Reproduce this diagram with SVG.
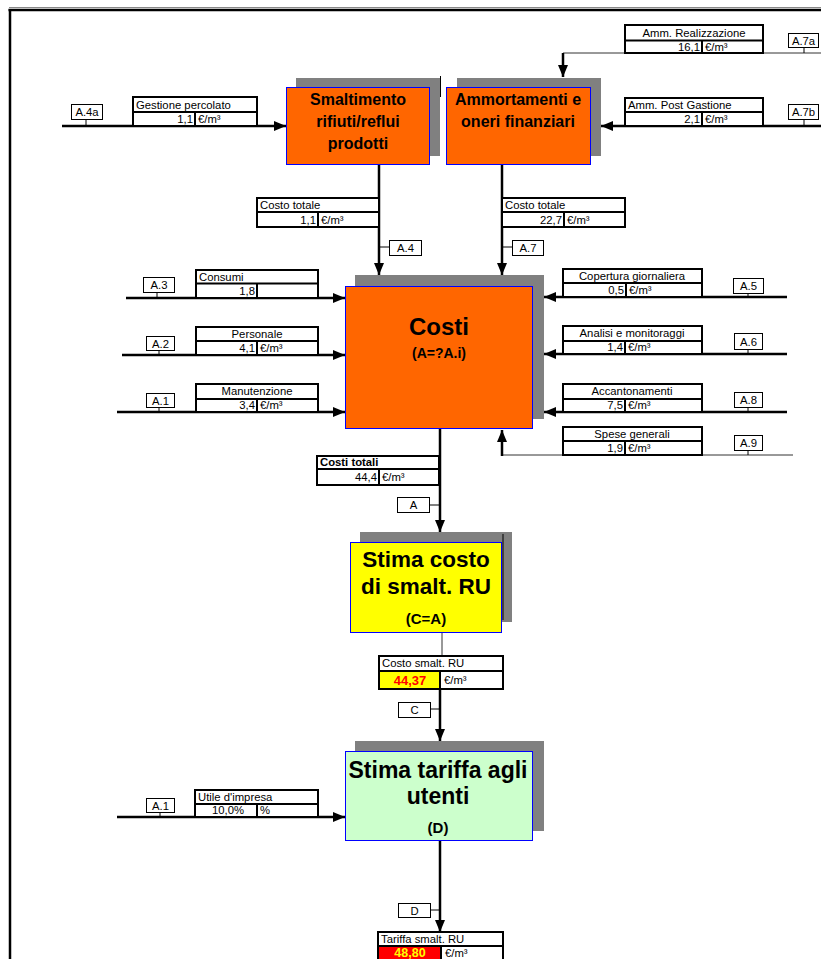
<svg xmlns="http://www.w3.org/2000/svg" width="821" height="959" viewBox="0 0 821 959">
<style>
.shadow{fill:#808080}
.orange{fill:#FF6600;stroke:#0000FF;stroke-width:1}
.yellow{fill:#FFFF00;stroke:#0000FF;stroke-width:1}
.green{fill:#CCFFCC;stroke:#0000FF;stroke-width:1}
.tb{fill:#fff;stroke:#000;stroke-width:2}
.tl{stroke:#000;stroke-width:2;fill:none}
.lb{fill:#fff;stroke:#000;stroke-width:1}
.tk{stroke:#000;stroke-width:1;fill:none}
text{font-family:"Liberation Sans",Arial,sans-serif;fill:#000}
.s{font-size:11.3px}
.m{text-anchor:middle}
.e{text-anchor:end}
.h{font-size:16px;font-weight:bold;text-anchor:middle}
.h2{font-size:23px;font-weight:bold;text-anchor:middle}
.h3{font-size:15px;font-weight:bold;text-anchor:middle}
.thick{stroke:#000;stroke-width:2.5;fill:none}
.thin{stroke:#333;stroke-width:1;fill:none}
</style>
<defs>
<marker id="arr" viewBox="0 0 12 10" refX="12" refY="5" markerWidth="12" markerHeight="10" markerUnits="userSpaceOnUse" orient="auto"><path d="M0,0 L12,5 L0,10 z" fill="#000"/></marker>
</defs>
<rect width="821" height="959" fill="#fff"/>
<g id="frame">
<line x1="9" y1="7.5" x2="821" y2="7.5" stroke="#888" stroke-width="1"/>
<line x1="8.5" y1="10" x2="821" y2="10" stroke="#000" stroke-width="2.5"/>
<line x1="10" y1="9" x2="10" y2="959" stroke="#000" stroke-width="2.5"/>
</g>
<g id="connectors">
<path class="thick" d="M62,126 H286" marker-end="url(#arr)"/>
<path class="thin" d="M821,53 H563"/>
<path class="thick" d="M563,53 V77" marker-end="url(#arr)"/>
<path class="thick" d="M821,126 H601" marker-end="url(#arr)"/>
<path class="thick" d="M379,165 V275" marker-end="url(#arr)"/>
<path class="thick" d="M502,165 V275" marker-end="url(#arr)"/>
<path class="thick" d="M126,298 H345" marker-end="url(#arr)"/>
<path class="thick" d="M122,355 H345" marker-end="url(#arr)"/>
<path class="thick" d="M117,412 H345" marker-end="url(#arr)"/>
<path class="thick" d="M787,297 H544" marker-end="url(#arr)"/>
<path class="thick" d="M787,354 H544" marker-end="url(#arr)"/>
<path class="thick" d="M787,412 H544" marker-end="url(#arr)"/>
<path class="thin" d="M793,455 H502"/>
<path class="thick" d="M502,456 V430" marker-end="url(#arr)"/>
<path class="thick" d="M440,429 V532" marker-end="url(#arr)"/>
<path class="thin" d="M442,633 V656"/>
<path class="thick" d="M440,689 V741" marker-end="url(#arr)"/>
<path class="thick" d="M117,817 H345" marker-end="url(#arr)"/>
<path class="thick" d="M440,841 V932" marker-end="url(#arr)"/>
<path class="tk" d="M86,120 V126 M804,47 V53 M804,119 V126 M379,247 H389 M502,247 H512 M157,293 V298 M159,350 V355 M159,408 V412 M748,293 V297 M748,349 V354 M748,407 V412 M748,450 V455 M429,505 H440 M430,709 H440 M160,812 V817 M430,910 H440"/>
</g>
<g id="node-smaltimento">
<rect class="shadow" x="296" y="78" width="144" height="78"/>
<line x1="440.5" y1="76" x2="440.5" y2="97" stroke="#000" stroke-width="1"/>
<rect class="orange" x="286.5" y="87.5" width="143" height="77"/>
<text class="h" x="358" y="104.5">Smaltimento</text>
<text class="h" x="358" y="126.5">rifiuti/reflui</text>
<text class="h" x="358" y="148.5">prodotti</text>
</g>
<g id="node-ammortamenti">
<rect class="shadow" x="457" y="78" width="144" height="78"/>
<rect class="orange" x="446.5" y="87.5" width="144" height="77"/>
<text class="h" x="518" y="104.5">Ammortamenti e</text>
<text class="h" x="518" y="126.5">oneri finanziari</text>
</g>
<g id="node-costi">
<rect class="shadow" x="355" y="275" width="189" height="144"/>
<rect class="orange" x="345.5" y="286.5" width="187" height="142"/>
<text x="439" y="335" style="font-size:24px;font-weight:bold;text-anchor:middle">Costi</text>
<text class="h3" x="439" y="358" style="font-size:14px">(A=?A.i)</text>
</g>
<g id="node-stima-costo">
<rect class="shadow" x="360" y="532" width="152" height="90"/>
<line x1="503" y1="534" x2="503" y2="620" stroke="#000" stroke-width="1"/>
<rect class="yellow" x="350.5" y="542.5" width="151" height="90"/>
<text class="h2" x="426" y="567" style="font-size:22.5px">Stima costo</text>
<text class="h2" x="426" y="594" style="font-size:22.5px">di smalt. RU</text>
<text class="h3" x="426" y="624">(C=A)</text>
</g>
<g id="node-stima-tariffa">
<rect class="shadow" x="355" y="741" width="189" height="90"/>
<rect class="green" x="345.5" y="751.5" width="187" height="89"/>
<text class="h2" x="438" y="778">Stima tariffa agli</text>
<text class="h2" x="438" y="804">utenti</text>
<text class="h3" x="438" y="833">(D)</text>
</g>
<g id="table-gestione">
<rect class="tb" x="133" y="97" width="124" height="29"/>
<path class="tl" d="M133,112 H257 M195,112 V126"/>
<text class="s" x="136" y="109">Gestione percolato</text>
<text class="s e" x="193" y="123">1,1</text>
<text class="s" x="198" y="123">€/m³</text>
</g>
<g id="table-amm-realizzazione">
<rect class="tb" x="625" y="25" width="138" height="28"/>
<path class="tl" d="M625,40.5 H763 M702,40.5 V53"/>
<text class="s m" x="694" y="37">Amm. Realizzazione</text>
<text class="s e" x="700" y="51">16,1</text>
<text class="s" x="705" y="51">€/m³</text>
</g>
<g id="table-amm-post">
<rect class="tb" x="625" y="98" width="138" height="28"/>
<path class="tl" d="M625,112 H763 M702,112 V126"/>
<text class="s" x="628" y="109">Amm. Post Gastione</text>
<text class="s e" x="700" y="123">2,1</text>
<text class="s" x="705" y="123">€/m³</text>
</g>
<g id="table-costo-totale-1">
<rect class="tb" x="257" y="198" width="122" height="29"/>
<path class="tl" d="M257,212 H379 M318,212 V227"/>
<text class="s" x="260" y="209">Costo totale</text>
<text class="s e" x="316" y="224">1,1</text>
<text class="s" x="321" y="224">€/m³</text>
</g>
<g id="table-costo-totale-2">
<rect class="tb" x="502" y="198" width="123" height="29"/>
<path class="tl" d="M502,212 H625 M564,212 V227"/>
<text class="s" x="505" y="209">Costo totale</text>
<text class="s e" x="562" y="224">22,7</text>
<text class="s" x="567" y="224">€/m³</text>
</g>
<g id="table-consumi">
<rect class="tb" x="196" y="270" width="122" height="28"/>
<path class="tl" d="M196,283.5 H318 M257,283.5 V298"/>
<text class="s" x="199" y="281">Consumi</text>
<text class="s e" x="255" y="295">1,8</text>
</g>
<g id="table-personale">
<rect class="tb" x="196" y="327" width="122" height="28"/>
<path class="tl" d="M196,341 H318 M257,341 V355"/>
<text class="s m" x="257" y="338">Personale</text>
<text class="s e" x="255" y="352">4,1</text>
<text class="s" x="260" y="352">€/m³</text>
</g>
<g id="table-manutenzione">
<rect class="tb" x="196" y="384" width="122" height="28"/>
<path class="tl" d="M196,399 H318 M257,399 V412"/>
<text class="s m" x="257" y="395">Manutenzione</text>
<text class="s e" x="255" y="409">3,4</text>
<text class="s" x="260" y="409">€/m³</text>
</g>
<g id="table-copertura">
<rect class="tb" x="563" y="269" width="139" height="28"/>
<path class="tl" d="M563,283 H702 M626,283 V297"/>
<text class="s m" x="632" y="280">Copertura giornaliera</text>
<text class="s e" x="624" y="294">0,5</text>
<text class="s" x="629" y="294">€/m³</text>
</g>
<g id="table-analisi">
<rect class="tb" x="563" y="326" width="139" height="28"/>
<path class="tl" d="M563,341 H702 M625,341 V354"/>
<text class="s m" x="632" y="337">Analisi e monitoraggi</text>
<text class="s e" x="623" y="351">1,4</text>
<text class="s" x="628" y="351">€/m³</text>
</g>
<g id="table-accantonamenti">
<rect class="tb" x="563" y="384" width="139" height="28"/>
<path class="tl" d="M563,399 H702 M625,399 V412"/>
<text class="s m" x="632" y="395">Accantonamenti</text>
<text class="s e" x="623" y="409">7,5</text>
<text class="s" x="628" y="409">€/m³</text>
</g>
<g id="table-spese">
<rect class="tb" x="563" y="427" width="139" height="28"/>
<path class="tl" d="M563,441 H702 M625,441 V455"/>
<text class="s m" x="632" y="438">Spese generali</text>
<text class="s e" x="623" y="452">1,9</text>
<text class="s" x="628" y="452">€/m³</text>
</g>
<g id="table-costi-totali">
<rect class="tb" x="317" y="456" width="122" height="29"/>
<path class="tl" d="M317,469 H439 M379,469 V485"/>
<text class="s" x="320" y="466" font-weight="bold">Costi totali</text>
<text class="s e" x="377" y="481">44,4</text>
<text class="s" x="382" y="481">€/m³</text>
</g>
<g id="table-costo-smalt">
<rect class="tb" x="379" y="656" width="124" height="33"/>
<rect x="380" y="671" width="60" height="17" fill="#FFFF00"/>
<path class="tl" d="M379,671 H503 M440,671 V689"/>
<text class="s" x="382" y="667">Costo smalt. RU</text>
<text x="410" y="685" style="font-size:13px;font-weight:bold;fill:#FF0000;text-anchor:middle">44,37</text>
<text class="s" x="444" y="684">€/m³</text>
</g>
<g id="table-utile">
<rect class="tb" x="195" y="790" width="123" height="27"/>
<path class="tl" d="M195,804 H318 M257,804 V817"/>
<text class="s" x="198" y="801">Utile d'impresa</text>
<text class="s m" x="228" y="814">10,0%</text>
<text class="s" x="260" y="814">%</text>
</g>
<g id="table-tariffa">
<rect class="tb" x="378" y="932" width="125" height="40"/>
<rect x="379" y="946" width="62" height="26" fill="#FF0000"/>
<path class="tl" d="M378,946 H503 M441,946 V972"/>
<text class="s" x="381" y="943">Tariffa smalt. RU</text>
<text x="410" y="957" style="font-size:12.5px;font-weight:bold;fill:#FFFF00;text-anchor:middle">48,80</text>
<text class="s" x="445" y="957">€/m³</text>
</g>
<g id="labels">
<rect class="lb" x="71.5" y="104.5" width="31" height="15"/><text class="s m" x="87" y="116">A.4a</text>
<rect class="lb" x="788.5" y="33.5" width="30" height="14"/><text class="s m" x="803.5" y="44.5">A.7a</text>
<rect class="lb" x="788.5" y="104.5" width="30" height="15"/><text class="s m" x="803.5" y="116">A.7b</text>
<rect class="lb" x="389.5" y="240.5" width="32" height="15"/><text class="s m" x="405.5" y="252">A.4</text>
<rect class="lb" x="512.5" y="240.5" width="31" height="15"/><text class="s m" x="528" y="252">A.7</text>
<rect class="lb" x="143.5" y="277.5" width="31" height="15"/><text class="s m" x="159" y="289">A.3</text>
<rect class="lb" x="146.5" y="336.5" width="28" height="14"/><text class="s m" x="160.5" y="347.5">A.2</text>
<rect class="lb" x="146.5" y="393.5" width="28" height="14"/><text class="s m" x="160.5" y="404.5">A.1</text>
<rect class="lb" x="733.5" y="278.5" width="30" height="15"/><text class="s m" x="748.5" y="290">A.5</text>
<rect class="lb" x="734.5" y="333.5" width="28" height="16"/><text class="s m" x="748.5" y="345.5">A.6</text>
<rect class="lb" x="734.5" y="392.5" width="28" height="15"/><text class="s m" x="748.5" y="404">A.8</text>
<rect class="lb" x="734.5" y="435.5" width="28" height="15"/><text class="s m" x="748.5" y="447">A.9</text>
<rect class="lb" x="397.5" y="497.5" width="32" height="15"/><text class="s m" x="413.5" y="509">A</text>
<rect class="lb" x="398.5" y="702.5" width="32" height="15"/><text class="s m" x="414.5" y="714">C</text>
<rect class="lb" x="146.5" y="798.5" width="28" height="14"/><text class="s m" x="160.5" y="809.5">A.1</text>
<rect class="lb" x="398.5" y="903.5" width="32" height="14"/><text class="s m" x="414.5" y="914.5">D</text>
</g>
</svg>
